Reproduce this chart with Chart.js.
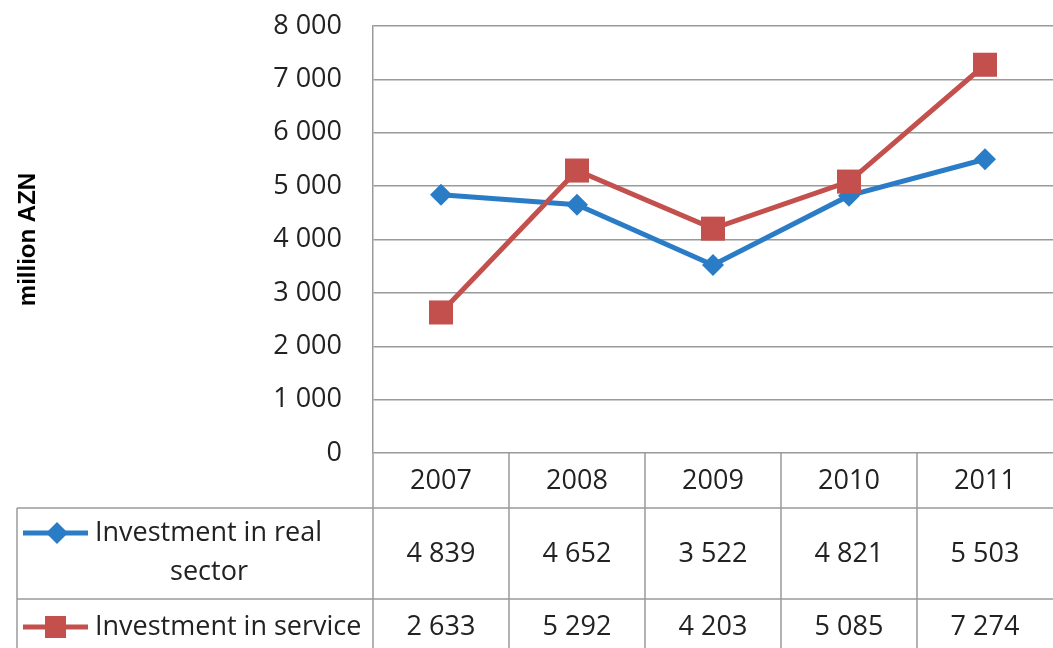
<!DOCTYPE html>
<html><head><meta charset="utf-8">
<script src="https://cdn.jsdelivr.net/npm/chart.js@4.4.1/dist/chart.umd.min.js"></script>
<style>html,body{margin:0;padding:0;background:#fff;overflow:hidden}</style>
</head><body>
<canvas id="c" width="1053" height="648"></canvas>
<script>
const categories = ['2007', '2008', '2009', '2010', '2011'];
const realSector = [4839, 4652, 3522, 4821, 5503];
const services = [2633, 5292, 4203, 5085, 7274];
const seriesNames = ['Investment in real sector', 'Investment in service'];
const seriesLabelLines = [['Investment in real', 'sector'], ['Investment in service']];
const yTickLabels = ['0', '1 000', '2 000', '3 000', '4 000', '5 000', '6 000', '7 000', '8 000'];
const yTitle = 'million AZN';

const BLUE = '#2B7CC6';
const RED = '#C4504E';
const GRID = '#9a9a9a';
const TXT = '#222222';
const FONT = '"Open Sans", "Noto Sans", sans-serif';
const FS = 27;

function fmt(v) { return String(v).replace(/\B(?=(\d{3})+(?!\d))/g, ' '); }

const tablePlugin = {
  id: 'dataTable',
  afterDraw(chart) {
    const ctx = chart.ctx, xs = chart.scales.x, area = chart.chartArea;
    const y0 = area.bottom, y1 = y0 + 55, y2 = y1 + 91, y3 = y2 + 60;
    const left = 17;
    ctx.save();
    ctx.strokeStyle = GRID; ctx.lineWidth = 1.5;
    const ln = (a, b, c, d) => { ctx.beginPath(); ctx.moveTo(a, b); ctx.lineTo(c, d); ctx.stroke(); };
    ln(left, y1, area.right, y1);
    ln(left, y2, area.right, y2);
    ln(left, y1, left, y3);
    for (let i = 0; i < categories.length; i++) {
      const bx = xs.getPixelForValue(i - 0.5);
      ln(bx, y0, bx, y3);
    }
    ctx.fillStyle = TXT;
    ctx.font = FS + 'px ' + FONT;
    ctx.textAlign = 'center'; ctx.textBaseline = 'middle';
    categories.forEach((c, i) => {
      const cx = xs.getPixelForValue(i);
      ctx.fillText(c, cx, y0 + 28);
      ctx.fillText(fmt(realSector[i]), cx, y1 + 46);
      ctx.fillText(fmt(services[i]), cx, y2 + 28);
    });
    // legend keys
    const keyY1 = y1 + 25, keyY2 = y2 + 28;
    ctx.lineWidth = 5;
    ctx.strokeStyle = BLUE; ln(23, keyY1, 88, keyY1);
    ctx.fillStyle = BLUE;
    ctx.beginPath(); ctx.moveTo(46, keyY1); ctx.lineTo(57, keyY1 - 11); ctx.lineTo(68, keyY1); ctx.lineTo(57, keyY1 + 11); ctx.closePath(); ctx.fill();
    ctx.strokeStyle = RED; ln(23, keyY2, 88, keyY2);
    ctx.fillStyle = RED; ctx.fillRect(45, keyY2 - 11, 21, 22);
    ctx.fillStyle = TXT;
    ctx.textAlign = 'left';
    ctx.fillText(seriesLabelLines[0][0], 95, keyY1);
    ctx.textAlign = 'center';
    ctx.fillText(seriesLabelLines[0][1], 209, y1 + 64);
    ctx.textAlign = 'left';
    ctx.fillText(seriesLabelLines[1][0], 95, keyY2);
    ctx.restore();
  }
};

new Chart(document.getElementById('c'), {
  type: 'line',
  data: {
    labels: categories,
    datasets: [
      { label: seriesNames[0], data: realSector, borderColor: BLUE, backgroundColor: BLUE,
        borderWidth: 5, pointStyle: 'rectRot', pointRadius: 11, pointBorderWidth: 0, tension: 0, order: 1 },
      { label: seriesNames[1], data: services, borderColor: RED, backgroundColor: RED,
        borderWidth: 5, pointStyle: 'rect', pointRadius: 17, pointBorderWidth: 0, tension: 0, order: 0 }
    ]
  },
  options: {
    responsive: false, animation: false, devicePixelRatio: 1,
    layout: { autoPadding: false, padding: { top: 26, bottom: 195, left: 0, right: 0 } },
    plugins: { legend: { display: false }, tooltip: { enabled: false } },
    scales: {
      x: { display: false, offset: true },
      y: {
        min: 0, max: 8000,
        afterFit(s) { s.width = 373; },
        border: { display: true, color: GRID, width: 1.5 },
        grid: { color: GRID, lineWidth: 1.5, drawTicks: true, tickLength: 31, tickColor: 'rgba(0,0,0,0)' },
        ticks: { stepSize: 1000, padding: 0, color: TXT, font: { family: FONT, size: FS },
          callback: (v) => yTickLabels[Math.round(v / 1000)] },
        title: { display: true, text: yTitle, color: '#000', padding: { top: 14, bottom: 0 },
          font: { family: '"Liberation Sans", Arial, sans-serif', size: 24, weight: 'bold' } }
      }
    }
  },
  plugins: [tablePlugin]
});
</script>
</body></html>
